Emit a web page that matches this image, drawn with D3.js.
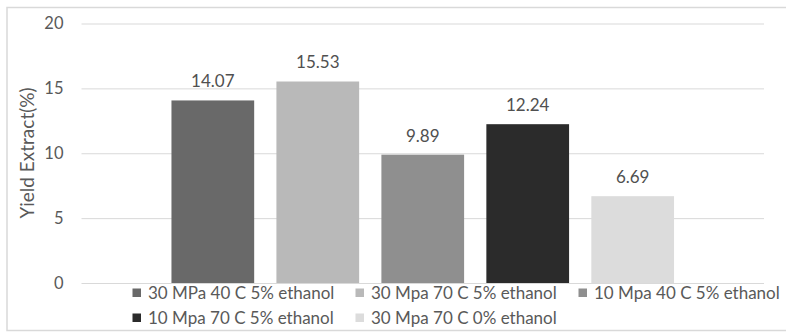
<!DOCTYPE html>
<html>
<head>
<meta charset="utf-8">
<script src="https://cdn.jsdelivr.net/npm/d3@7"></script>
<style>
  html, body { margin: 0; padding: 0; background: #fff; }
  svg { display: block; }
  text { font-family: Lato, "Open Sans", sans-serif; }
</style>
</head>
<body>
<script>
// Series (one bar each) and their yields
const seriesNames = [
  "30 MPa 40 C 5% ethanol",
  "30 Mpa 70 C 5% ethanol",
  "10 Mpa 40 C 5% ethanol",
  "10 Mpa 70 C 5% ethanol",
  "30 Mpa 70 C 0% ethanol"
];
const yieldValues = [14.07, 15.53, 9.89, 12.24, 6.69];
const barColors = ["#696969", "#b9b9b9", "#8f8f8f", "#2b2b2b", "#dcdcdc"];
const yTicks = [0, 5, 10, 15, 20];
const yTitle = "Yield Extract(%)";

const W = 786, H = 332;
const plot = { left: 81.5, right: 764, top: 23.5, bottom: 283 };

const svg = d3.select("body").append("svg").attr("width", W).attr("height", H);

// chart frame
svg.append("rect")
  .attr("x", 7).attr("y", 7.5).attr("width", W + 10).attr("height", 323)
  .attr("fill", "none").attr("stroke", "#d9d9d9").attr("stroke-width", 1.5);

const y = d3.scaleLinear().domain([0, 20]).range([plot.bottom, plot.top]);

// single category band, series bands inside it
const x0 = d3.scaleBand().domain(["group"]).range([plot.left, plot.right]).paddingOuter(0.179);
const x1 = d3.scaleBand().domain(seriesNames)
  .range([x0("group"), x0("group") + x0.bandwidth()])
  .paddingInner(0.212).paddingOuter(0);

// gridlines + tick labels via axis
const yAxis = d3.axisLeft(y).tickValues(yTicks).tickSize(-(plot.right - plot.left)).tickPadding(18);
const gAxis = svg.append("g").attr("transform", `translate(${plot.left},0)`).call(yAxis);
gAxis.select(".domain").remove();
gAxis.selectAll(".tick line").attr("stroke", "#d9d9d9").attr("stroke-width", 1);
gAxis.selectAll(".tick text")
  .attr("fill", "#595959").attr("font-size", 16.5)
  .style("font-family", "Lato, 'Open Sans', sans-serif");

// bars
const data = seriesNames.map((s, i) => ({ s, v: yieldValues[i], c: barColors[i] }));
svg.append("g").selectAll("rect").data(data).join("rect")
  .attr("x", d => x1(d.s))
  .attr("y", d => y(d.v))
  .attr("width", x1.bandwidth())
  .attr("height", d => y(0) - y(d.v))
  .attr("fill", d => d.c);

// value labels
svg.append("g").selectAll("text").data(data).join("text")
  .attr("x", d => x1(d.s) + x1.bandwidth() / 2)
  .attr("y", d => y(d.v) - 13)
  .attr("text-anchor", "middle")
  .attr("fill", "#505050")
  .attr("font-size", 17)
  .text(d => d.v.toFixed(2));

// y axis title
svg.append("text")
  .attr("transform", "translate(33.5,153) rotate(-90)")
  .attr("text-anchor", "middle")
  .attr("fill", "#595959")
  .attr("font-size", 19)
  .text(yTitle);

// legend: three items per row
const legend = svg.append("g");
const itemW = 223, rowH = 25, legX = 132.5, legY = 293;
const items = legend.selectAll("g").data(data).join("g")
  .attr("transform", (d, i) => `translate(${legX + (i % 3) * itemW},${legY + Math.floor(i / 3) * rowH})`);
items.append("rect").attr("x", 0).attr("y", -4.5).attr("width", 8.5).attr("height", 8.5).attr("fill", d => d.c);
items.append("text")
  .attr("x", 15.5).attr("y", 0).attr("dy", "0.36em")
  .attr("fill", "#595959").attr("font-size", 17)
  .text(d => d.s);
</script>
</body>
</html>
